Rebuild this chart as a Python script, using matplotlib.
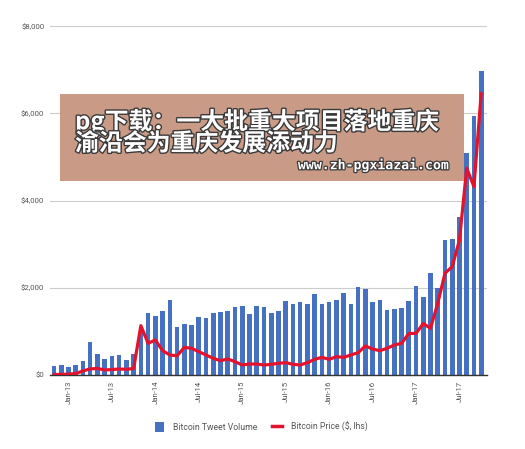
import numpy as np
import pandas as pd
import matplotlib
matplotlib.use('Agg')
import matplotlib.pyplot as plt
import matplotlib.patheffects as pe
from matplotlib.patches import Patch, Rectangle
from matplotlib.lines import Line2D

# Monthly data, Nov-12 .. Oct-17
months = pd.date_range('2012-11-01', '2017-10-01', freq='MS')

tweet_volume = [206, 229, 176, 229, 321, 764, 474, 367, 428, 451,
                344, 480, 1000, 1414, 1353, 1475, 1720, 1093, 1162, 1147,
                1323, 1300, 1414, 1453, 1475, 1567, 1590, 1391, 1590, 1567,
                1430, 1475, 1697, 1628, 1675, 1621, 1858, 1628, 1682, 1720,
                1873, 1621, 2011, 1965, 1682, 1720, 1491, 1506, 1544, 1705,
                2030, 1781, 2347, 2003, 3096, 3119, 3616, 5099, 5940, 6980]

btc_price = [12, 13, 20, 33, 93, 140, 150, 115, 125, 138,
             130, 150, 1131, 726, 803, 558, 459, 440, 634, 612,
             535, 459, 382, 329, 367, 306, 229, 252, 252, 229,
             245, 268, 283, 245, 229, 283, 359, 405, 359, 420,
             405, 459, 512, 665, 596, 558, 612, 688, 726, 950,
             956, 1180, 1070, 1644, 2332, 2485, 3096, 4740, 4319, 6460]

tick_labels = ['Jan-13', 'Jul-13', 'Jan-14', 'Jul-14', 'Jan-15', 'Jul-15',
               'Jan-16', 'Jul-16', 'Jan-17', 'Jul-17']
y_ticks = [0, 2000, 4000, 6000, 8000]
y_labels = ['$0', '$2,000', '$4,000', '$6,000', '$8,000']

bar_color = '#4670c2'
line_color = '#e3132e'
text_color = '#555555'

fig = plt.figure(figsize=(5.25, 4.49), dpi=100)
ax = fig.add_axes([0.0952, 0.1648, 0.8324, 0.7772])

x = np.arange(len(months))
ax.bar(x, tweet_volume, width=0.64, color=bar_color, zorder=2)
ax.plot(x, btc_price, color=line_color, lw=2.3, solid_joinstyle='round',
        solid_capstyle='round', zorder=3)

ax.set_xlim(-0.55, 59.8)
ax.set_ylim(0, 8000)
ax.set_yticks(y_ticks)
ax.set_yticklabels(y_labels, fontsize=5.6, color=text_color, family='Roboto')
ax.grid(axis='y', color='#cccccc', lw=0.8, zorder=0)
ax.set_axisbelow(True)

tick_pos = [list(months.strftime('%b-%y')).index(t) for t in tick_labels]
ax.set_xticks(tick_pos)
ax.set_xticklabels(tick_labels, rotation=90, fontsize=5.6, color=text_color,
                   family='Roboto')
ax.tick_params(axis='x', length=0, pad=4)
ax.tick_params(axis='y', length=0, pad=4)

for s in ['top', 'right', 'left']:
    ax.spines[s].set_visible(False)
ax.spines['bottom'].set_color('#333333')
ax.spines['bottom'].set_linewidth(1.0)

handles = [Patch(facecolor=bar_color, edgecolor='none'),
           Line2D([0], [0], color=line_color, lw=2.5)]
fig.legend(handles, ['Bitcoin Tweet Volume', 'Bitcoin Price ($, lhs)'],
           loc='center', bbox_to_anchor=(0.497, 0.049), ncol=2, frameon=False,
           prop={'family': 'Roboto', 'size': 6.2}, labelcolor=text_color,
           handlelength=1.1, handleheight=1.4, handletextpad=1.0,
           columnspacing=1.8)

# overlay banner
fig.patches.append(Rectangle((0.1143, 0.5969), 0.7695, 0.1938,
                             transform=fig.transFigure, facecolor='#c99b86',
                             edgecolor='none', zorder=10))
stroke = [pe.withStroke(linewidth=2.0, foreground='#3a3a3a')]
fig.text(0.1429, 0.706, 'pg下载：一大批重大项目落地重庆\n渝沿会为重庆发展添动力',
         fontsize=17.2, linespacing=0.86,
         family=['Noto Sans CJK SC', 'DejaVu Sans'], weight='bold',
         color='white', va='center', ha='left', zorder=11, path_effects=stroke)
fig.text(0.857, 0.631, 'www.zh-pgxiazai.com', fontsize=9.5,
         family='DejaVu Sans Mono', weight='bold', color='white',
         va='center', ha='right', zorder=11,
         path_effects=[pe.withStroke(linewidth=1.8, foreground='#3a3a3a')])

fig.savefig('out.png', dpi=100)
